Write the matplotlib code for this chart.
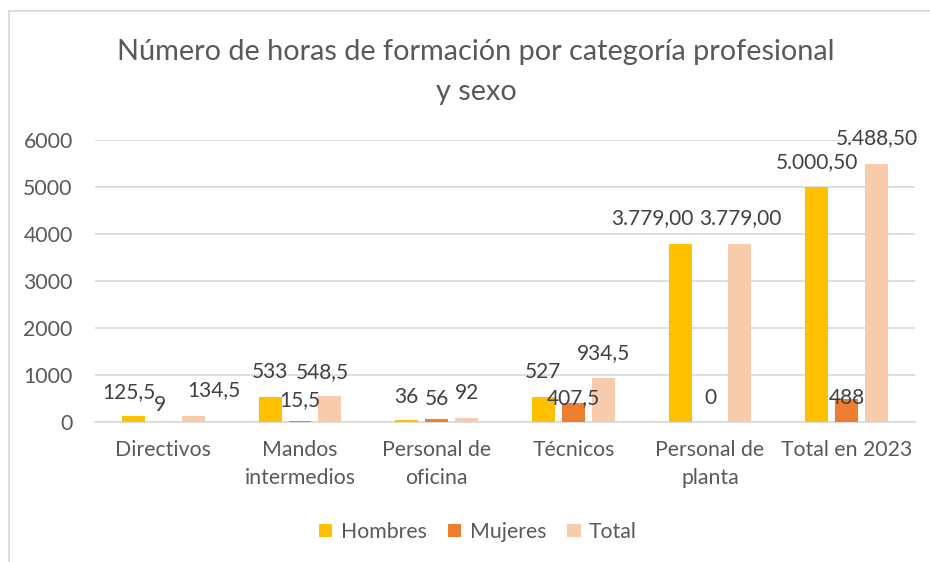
import matplotlib
matplotlib.use("Agg")
import matplotlib.pyplot as plt
from matplotlib.patches import Rectangle
import numpy as np

plt.rcParams['font.family'] = ['Lato', 'DejaVu Sans']

categories = ["Directivos", "Mandos\nintermedios", "Personal de\noficina", "Técnicos",
              "Personal de\nplanta", "Total en 2023"]
hombres = [125.5, 533, 36, 527, 3779, 5000.5]
mujeres = [9, 15.5, 56, 407.5, 0, 488]
total = [134.5, 548.5, 92, 934.5, 3779, 5488.5]
hombres_lbl = ["125,5", "533", "36", "527", "3.779,00", "5.000,50"]
mujeres_lbl = ["9", "15,5", "56", "407,5", "0", "488"]
total_lbl = ["134,5", "548,5", "92", "934,5", "3.779,00", "5.488,50"]
series_names = ["Hombres", "Mujeres", "Total"]
yticks = [0, 1000, 2000, 3000, 4000, 5000, 6000]

colors = ["#FFC000", "#ED7D31", "#F8CBAD"]
txt = "#595959"
# label offsets in pixels (dx, dy upward) relative to bar top centre
offs = [
    [(-5, 24), (0, 25), (0, 23), (0, 25), (-28, 26), (0, 25)],
    [(-3, 17), (0, 21), (0, 20), (0, 5), (0, 24), (0, 1)],
    [(21, 26), (-8, 24), (0, 25), (0, 25), (0, 26), (0, 26)],
]

W, H = 930, 562
fig = plt.figure(figsize=(W / 100, H / 100), dpi=100)
fig.patches.append(Rectangle((9 / W, -0.1), 1.2, 1 - 11 / H + 0.1, transform=fig.transFigure,
                             fill=False, edgecolor="#D9D9D9", linewidth=1.2))
ax = fig.add_axes([95 / W, 1 - 422 / H, (915 - 95) / W, (422 - 140) / H])

x = np.arange(len(categories))
bw = 0.168
step = 0.219
for i, (vals, lbls) in enumerate(zip([hombres, mujeres, total], [hombres_lbl, mujeres_lbl, total_lbl])):
    xs = x + (i - 1) * step
    ax.bar(xs, vals, width=bw, color=colors[i], label=series_names[i], zorder=3)
    for j, (xv, v, l) in enumerate(zip(xs, vals, lbls)):
        dx, dy = offs[i][j]
        ax.annotate(l, (xv, v), xytext=(dx * 0.72, dy * 0.72), textcoords="offset points",
                    ha="center", va="center", fontsize=15, color="#404040", zorder=5)

ax.set_xlim(-0.5, len(categories) - 0.5)
ax.set_ylim(0, 6000)
ax.set_yticks(yticks)
ax.set_yticklabels([str(t) for t in yticks])
ax.set_xticks(x)
ax.set_xticklabels(categories)
ax.grid(axis="y", color="#D9D9D9", linewidth=1.2, zorder=0)
for s in ["top", "right", "left"]:
    ax.spines[s].set_visible(False)
ax.spines["bottom"].set_color("#D9D9D9")
ax.spines["bottom"].set_linewidth(1.2)
ax.tick_params(axis="both", length=0, labelsize=15.3, colors=txt)
ax.tick_params(axis="y", pad=16)
ax.tick_params(axis="x", pad=13)
for t in ax.get_xticklabels():
    t.set_linespacing(1.5)

fig.text(476 / W, 1 - 52 / H, "Número de horas de formación por categoría profesional",
         ha="center", va="center", fontsize=20.8, color=txt)
fig.text(476 / W, 1 - 92 / H, "y sexo", ha="center", va="center", fontsize=20.8, color=txt)

leg = fig.legend(loc="center", bbox_to_anchor=(478 / W, 1 - 532 / H), ncol=3, frameon=False,
                 fontsize=15.3, handlelength=0.62, handleheight=0.62, handletextpad=0.4,
                 columnspacing=1.0)
for t in leg.get_texts():
    t.set_color(txt)

fig.savefig("out.png", dpi=100)
